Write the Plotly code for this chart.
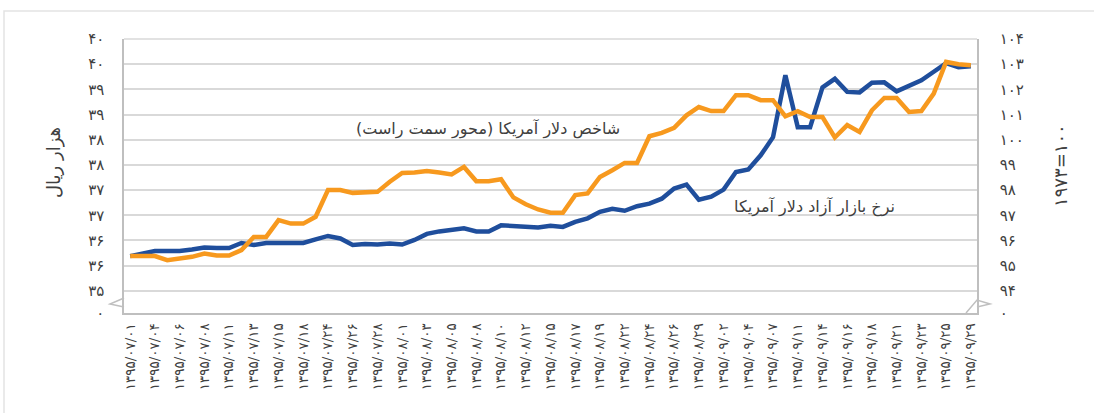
import plotly.graph_objects as go

FA = str.maketrans("0123456789", "۰۱۲۳۴۵۶۷۸۹")
def fa(s):
    return str(s).translate(FA)

# ---- data ----
dates = [
    "1395/07/01", "1395/07/03", "1395/07/04", "1395/07/05", "1395/07/06", "1395/07/07",
    "1395/07/08", "1395/07/10", "1395/07/11", "1395/07/12", "1395/07/13", "1395/07/14",
    "1395/07/15", "1395/07/17", "1395/07/18", "1395/07/19", "1395/07/24", "1395/07/25",
    "1395/07/26", "1395/07/27", "1395/07/28", "1395/07/29", "1395/08/01", "1395/08/02",
    "1395/08/03", "1395/08/04", "1395/08/05", "1395/08/06", "1395/08/08", "1395/08/09",
    "1395/08/10", "1395/08/11", "1395/08/12", "1395/08/13", "1395/08/15", "1395/08/16",
    "1395/08/17", "1395/08/18", "1395/08/19", "1395/08/20", "1395/08/22", "1395/08/23",
    "1395/08/24", "1395/08/25", "1395/08/26", "1395/08/27", "1395/08/29", "1395/09/01",
    "1395/09/02", "1395/09/03", "1395/09/04", "1395/09/06", "1395/09/07", "1395/09/08",
    "1395/09/11", "1395/09/13", "1395/09/14", "1395/09/15", "1395/09/16", "1395/09/17",
    "1395/09/18", "1395/09/20", "1395/09/21", "1395/09/22", "1395/09/23", "1395/09/24",
    "1395/09/25", "1395/09/27", "1395/09/29",
]

# free-market USD rate, thousand rials (left axis)
free_market_usd = [
    35.94, 35.98, 36.04, 36.04, 36.04, 36.07, 36.11, 36.10, 36.10, 36.20,
    36.16, 36.20, 36.20, 36.19, 36.20, 36.27, 36.34, 36.29, 36.16, 36.18,
    36.17, 36.19, 36.17, 36.26, 36.38, 36.43, 36.47, 36.49, 36.43, 36.43,
    36.55, 36.53, 36.52, 36.51, 36.54, 36.52, 36.62, 36.69, 36.82, 36.88,
    36.84, 36.93, 36.98, 37.08, 37.28, 37.36, 37.06, 37.12, 37.26, 37.61,
    37.66, 37.94, 38.30, 39.53, 38.50, 38.50, 39.29, 39.46, 39.20, 39.19,
    39.38, 39.39, 39.21, 39.32, 39.43, 39.60, 39.77, 39.69, 39.71,
]

# US dollar index, 1973=100 (right axis)
dollar_index = [
    95.38, 95.38, 95.38, 95.22, 95.30, 95.35, 95.48, 95.40, 95.40, 95.62,
    96.14, 96.14, 96.81, 96.67, 96.67, 96.94, 98.00, 98.00, 97.89, 97.90,
    97.93, 98.33, 98.68, 98.70, 98.76, 98.70, 98.62, 98.92, 98.35, 98.35,
    98.43, 97.71, 97.44, 97.23, 97.10, 97.10, 97.80, 97.87, 98.52, 98.79,
    99.08, 99.08, 100.14, 100.27, 100.47, 100.97, 101.30, 101.14, 101.14, 101.77,
    101.77, 101.57, 101.57, 100.93, 101.13, 100.90, 100.90, 100.09, 100.58, 100.31,
    101.17, 101.66, 101.66, 101.10, 101.14, 101.83, 103.09, 103.00, 102.96,
]

left_tick_vals = [40.25, 39.75, 39.25, 38.75, 38.25, 37.75, 37.25, 36.75, 36.25, 35.75, 35.25]
left_tick_text = ["40", "40", "39", "39", "38", "38", "37", "37", "36", "36", "35"]
right_tick_vals = [104, 103, 102, 101, 100, 99, 98, 97, 96, 95, 94]
right_tick_text = ["104", "103", "102", "101", "100", "99", "98", "97", "96", "95", "94"]
left_bottom = 34.81
right_bottom = 93.12

left_title = "هزار ریال"
right_title = "1973=100"
index_label = "شاخص دلار آمریکا (محور سمت راست)"
rate_label = "نرخ بازار آزاد دلار آمریکا"

BLUE = "#1f4e9c"
ORANGE = "#f7991e"
GRID = "#d9d9d9"
AXIS = "#bfbfbf"
TXT = "#404040"
FONT = "DejaVu Sans"

# layout geometry (pixels)
W, H = 1094, 413
L, R, T, B = 124, 117, 39, 100
PW, PH = W - L - R, H - T - B

def px(x):
    return (x - L) / PW

def py(y):
    return (H - B - y) / PH

fig = go.Figure()
fig.add_trace(go.Scatter(
    x=dates, y=free_market_usd, mode="lines", yaxis="y",
    line=dict(color=BLUE, width=4.5), name=rate_label, showlegend=False,
))
fig.add_trace(go.Scatter(
    x=dates, y=dollar_index, mode="lines", yaxis="y2",
    line=dict(color=ORANGE, width=4.5), name=index_label, showlegend=False,
))

def label(x, y, text, angle=0, size=16):
    return dict(xref="paper", yref="paper", x=px(x), y=py(y), text=text,
                xanchor="center", yanchor="middle", textangle=angle,
                showarrow=False, font=dict(size=size, color=TXT))

fig.update_layout(
    width=W, height=H,
    margin=dict(l=L, r=R, t=T, b=B, pad=0, autoexpand=False),
    paper_bgcolor="white", plot_bgcolor="white",
    font=dict(family=FONT, color=TXT, size=13),
    xaxis=dict(
        type="category", range=[-0.5, len(dates) - 0.5], automargin=False,
        tickmode="array", tickvals=dates[::2], ticktext=[fa(d) for d in dates[::2]],
        tickangle=-90, tickfont=dict(size=13.5, color=TXT),
        showgrid=False, showline=True, linecolor=AXIS, linewidth=1.5,
        ticks="", ticklabelstandoff=3,
    ),
    yaxis=dict(
        range=[left_bottom, 40.25], automargin=False,
        tickmode="array", tickvals=left_tick_vals + [left_bottom],
        ticktext=[fa(t) for t in left_tick_text] + [fa(0)],
        showgrid=True, gridcolor=GRID, gridwidth=1.5,
        showline=True, linecolor=AXIS, linewidth=1.5, zeroline=False,
        ticks="", ticklabelstandoff=15, tickfont=dict(size=15, color=TXT),
    ),
    yaxis2=dict(
        overlaying="y", side="right", automargin=False,
        range=[right_bottom, 104],
        tickmode="array", tickvals=right_tick_vals + [right_bottom],
        ticktext=[fa(t) for t in right_tick_text] + [fa(0)],
        showgrid=False, showline=True, linecolor=AXIS, linewidth=1.5, zeroline=False,
        ticks="", ticklabelstandoff=18, tickfont=dict(size=15, color=TXT),
    ),
    annotations=[
        label(54, 163, left_title, -90, 18),
        label(1060, 166, fa(right_title), -90, 18),
        label(488, 129, index_label),
        label(814, 207, rate_label),
    ],
    shapes=[
        # top border of plot area
        dict(type="line", xref="paper", yref="paper", x0=0, x1=1, y0=1, y1=1,
             line=dict(color=GRID, width=1.5)),
        # outer chart border
        dict(type="rect", xref="paper", yref="paper", x0=px(4), x1=px(1110), y0=py(430), y1=py(11),
             line=dict(color="#e3e3e3", width=1.5)),
        # axis-break zigzags
        dict(type="path", xref="paper", yref="paper",
             path=f"M {px(124)},{py(298)} L {px(110)},{py(304)} L {px(124)},{py(307)}",
             line=dict(color=AXIS, width=1.5)),
        dict(type="path", xref="paper", yref="paper",
             path=f"M {px(966)},{py(313)} L {px(977)},{py(300)} L {px(990)},{py(304)} L {px(977)},{py(307)}",
             line=dict(color=AXIS, width=1.5)),
    ],
)

fig.write_html(
    "out.html",
    config={"displayModeBar": False},
    post_script="document.body.style.margin='0';document.body.style.overflow='hidden';",
)
